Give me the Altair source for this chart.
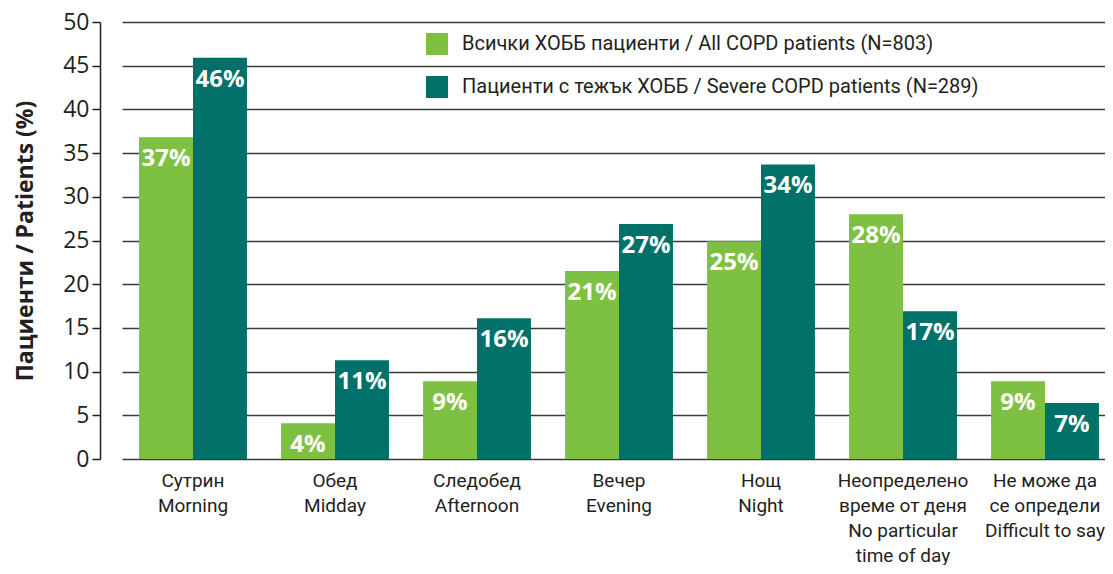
import altair as alt
import pandas as pd

categories = ["Сутрин|Morning", "Обед|Midday", "Следобед|Afternoon", "Вечер|Evening",
              "Нощ|Night", "Неопределено|време от деня|No particular|time of day",
              "Не може да|се определи|Difficult to say"]
series = ["Всички ХОББ пациенти / All COPD patients (N=803)",
          "Пациенти с тежък ХОББ / Severe COPD patients (N=289)"]
all_vals = [36.8, 4.1, 8.9, 21.5, 24.9, 28.0, 8.9]
severe_vals = [45.9, 11.3, 16.1, 26.9, 33.7, 16.9, 6.4]
all_labels = ["37%", "4%", "9%", "21%", "25%", "28%", "9%"]
severe_labels = ["46%", "11%", "16%", "27%", "34%", "17%", "7%"]
colors = ["#7EC142", "#007068"]

rows = []
for c, v, l in zip(categories, all_vals, all_labels):
    rows.append({"cat": c, "series": series[0], "value": v, "label": l})
for c, v, l in zip(categories, severe_vals, severe_labels):
    rows.append({"cat": c, "series": series[1], "value": v, "label": l})
df = pd.DataFrame(rows)

COND = "Roboto, sans-serif"
REG = "Open Sans, Liberation Sans, sans-serif"

x = alt.X("cat:N", sort=categories, title=None,
          scale=alt.Scale(range=[22, 1016], paddingInner=0.24, paddingOuter=0.12),
          axis=alt.Axis(labelExpr="split(datum.value, '|')", labelAngle=0,
                        domain=False, ticks=False, labelFont=COND, labelFontSize=19,
                        labelColor="#231f20", labelLineHeight=25, labelPadding=12,
                        labelBaseline="top", labelLimit=300, labelOverlap=False))
y = alt.Y("value:Q", title="Пациенти / Patients (%)",
          scale=alt.Scale(domain=[0, 50], nice=False),
          axis=alt.Axis(values=list(range(0, 55, 5)), grid=True, gridColor="#3a3a3a",
                        gridWidth=1.5, domainColor="#231f20", domainWidth=1.5,
                        tickColor="#231f20", tickWidth=1.5, tickSize=8,
                        labelFont=REG, labelFontSize=23, labelColor="#231f20",
                        labelPadding=3, titleFont=REG, titleFontSize=23,
                        titleFontWeight="bold", titleColor="#231f20", titlePadding=25))
xo = alt.XOffset("series:N", sort=series)
color = alt.Color("series:N", sort=series,
                  scale=alt.Scale(domain=series, range=colors),
                  legend=alt.Legend(title=None, orient="none", legendX=326, legendY=11,
                                    symbolType="square", symbolSize=484,
                                    symbolStrokeWidth=0, symbolOpacity=1,
                                    labelFont=COND, labelFontSize=20,
                                    labelColor="#231f20", labelOffset=14,
                                    rowPadding=21, labelLimit=600))

base = alt.Chart(df)
bars = base.mark_bar(opacity=1).encode(x=x, xOffset=xo, y=y, color=color)
text = base.mark_text(color="white", fontWeight="bold", fontSize=24, font=REG,
                      baseline="middle", dy=22).encode(
    x=alt.X("cat:N", sort=categories), xOffset=xo, y="value:Q", text="label:N")

chart = alt.layer(bars, text).properties(
    width=1000, height=437,
    padding={"left": 92, "top": 14, "right": 5, "bottom": 106},
    autosize=alt.AutoSizeParams(type="none"),
).configure_view(stroke=None).configure_axis(gridCap="butt")

chart.save("out.html", embed_options={"renderer": "svg", "actions": False})
